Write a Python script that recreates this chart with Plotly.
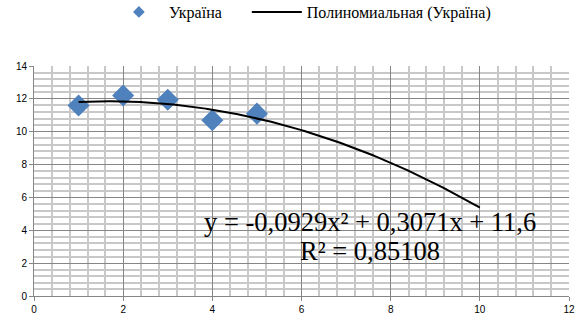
import numpy as np
import plotly.graph_objects as go

# Data
years = [1, 2, 3, 4, 5]
ukraine = [11.6, 12.2, 11.95, 10.7, 11.1]
trend_coef = [-0.0929, 0.3071, 11.6]  # a, b, c of polynomial trendline
trend_x_range = [1, 10]
series_name = "Україна"
trend_name = "Полиномиальная (Україна)"
eq_line1 = "y = -0,0929x² + 0,3071x + 11,6"
eq_line2 = "R² = 0,85108"

tx = np.linspace(trend_x_range[0], trend_x_range[1], 200)
ty = np.polyval(trend_coef, tx)

fig = go.Figure()
fig.add_trace(go.Scatter(
    x=years, y=ukraine, mode="markers", name=series_name, showlegend=False,
    marker=dict(symbol="diamond", size=17, color="#4F81BD", line=dict(width=0)),
))
# legend-only entry with small marker (padded for spacing)
fig.add_trace(go.Scatter(
    x=[None], y=[None], mode="markers", name=series_name + "\u00a0" * 5,
    marker=dict(symbol="diamond", size=9, color="#4F81BD", line=dict(width=0)),
))
fig.add_trace(go.Scatter(
    x=tx, y=ty, mode="lines", name=trend_name,
    line=dict(color="black", width=2),
))

axis_common = dict(
    showline=True, linecolor="#868686", linewidth=1,
    ticks="outside", ticklen=4, tickcolor="#868686",
    showgrid=True, gridcolor="#868686", gridwidth=1,
    zeroline=False, automargin=False,
    tickfont=dict(family="Liberation Sans", size=10, color="black"),
)
fig.update_xaxes(range=[0, 12], dtick=2, tick0=0,
                 minor=dict(dtick=0.4, showgrid=True, gridcolor="#C8C8C8", gridwidth=2),
                 **axis_common)
fig.update_yaxes(range=[0, 14], dtick=2, tick0=0,
                 minor=dict(dtick=0.4, showgrid=True, gridcolor="#C8C8C8", gridwidth=2),
                 **axis_common)

eq_font = dict(family="Liberation Serif", size=26.5, color="black")
fig.add_annotation(x=7.54, y=4.5, xref="x", yref="y", text=eq_line1,
                   showarrow=False, font=eq_font)
fig.add_annotation(x=7.54, y=2.75, xref="x", yref="y", text=eq_line2,
                   showarrow=False, font=eq_font)

fig.update_layout(
    width=576, height=324,
    margin=dict(l=34, r=7, t=66, b=28, autoexpand=False),
    plot_bgcolor="white", paper_bgcolor="white",
    showlegend=True,
    legend=dict(orientation="h", x=0.140, xanchor="left", y=0.963, yanchor="middle",
                yref="container", itemwidth=50,
                font=dict(family="Liberation Serif, Times New Roman, serif", size=16, color="black")),
)

fig.write_html("out.html", config={"displayModeBar": False},
               post_script="document.body.style.margin='0px';document.body.style.padding='0px';")
